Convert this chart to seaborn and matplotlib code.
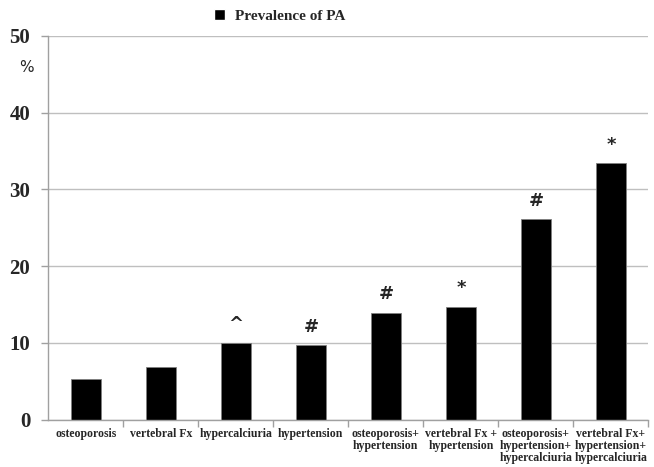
import matplotlib
matplotlib.use("Agg")
import matplotlib.pyplot as plt
import seaborn as sns
import pandas as pd
from matplotlib.patches import Patch

categories = [
    "osteoporosis",
    "vertebral Fx",
    "hypercalciuria",
    "hypertension",
    "osteoporosis+\nhypertension",
    "vertebral Fx +\nhypertension",
    "osteoporosis+\nhypertension+\nhypercalciuria",
    "vertebral Fx+\nhypertension+\nhypercalciuria",
]
values = [5.3, 6.9, 10.0, 9.7, 13.9, 14.7, 26.1, 33.4]
markers = ["", "", "^", "#", "#", "*", "#", "*"]
yticks = [0, 10, 20, 30, 40, 50]
series_name = "Prevalence of PA"

sns.set_theme(style="white")
plt.rcParams["font.family"] = ["Liberation Serif", "DejaVu Serif"]

df = pd.DataFrame({"category": categories, "value": values})

fig = plt.figure(figsize=(6.54, 4.67), dpi=100)
ax = fig.add_axes([0.0739, 0.1013, 0.9175, 0.8217])

sns.barplot(data=df, x="category", y="value", color="black", width=0.4,
            edgecolor="#808080", linewidth=0.6, saturation=1, ax=ax)

ax.set_ylim(0, 50)
ax.set_xlim(-0.5, len(categories) - 0.5)
ax.set_yticks(yticks)
ax.set_yticklabels([str(t) for t in yticks], fontsize=15, fontweight="bold")
ax.yaxis.grid(True, color="#bfbfbf", linewidth=1)
ax.set_axisbelow(True)
ax.set_xlabel("")
ax.set_ylabel("")

ax.set_xticks(range(len(categories)))
ax.set_xticklabels(categories, fontsize=8.5, fontweight="bold", linespacing=1.0)
ax.set_xticks([i + 0.5 for i in range(len(categories))], minor=True)
ax.tick_params(axis="x", which="major", length=0, pad=6)
ax.tick_params(axis="x", which="minor", length=5, color="#a0a0a0", width=1, direction="out", bottom=True)
ax.tick_params(axis="y", length=5, color="#a0a0a0", width=1, left=True, pad=8)

for side in ["top", "right"]:
    ax.spines[side].set_visible(False)
for side in ["left", "bottom"]:
    ax.spines[side].set_color("#a0a0a0")
    ax.spines[side].set_linewidth(1)

for i, (v, m) in enumerate(zip(values, markers)):
    if m:
        ax.annotate(m, (i, v), xytext=(0, 7), textcoords="offset points",
                    ha="center", va="bottom", fontsize=13, fontweight="bold",
                    family=["DejaVu Sans"])

fig.text(0.03, 0.855, "%", fontsize=11, family=["DejaVu Sans"], ha="left", va="center")

fig.legend(handles=[Patch(facecolor="black")], labels=[series_name],
           loc="center", bbox_to_anchor=(0.428, 0.965), frameon=False,
           handlelength=0.7, handleheight=0.7, handletextpad=0.7,
           prop={"size": 11, "weight": "bold"})

fig.savefig("out.png", dpi=100)
